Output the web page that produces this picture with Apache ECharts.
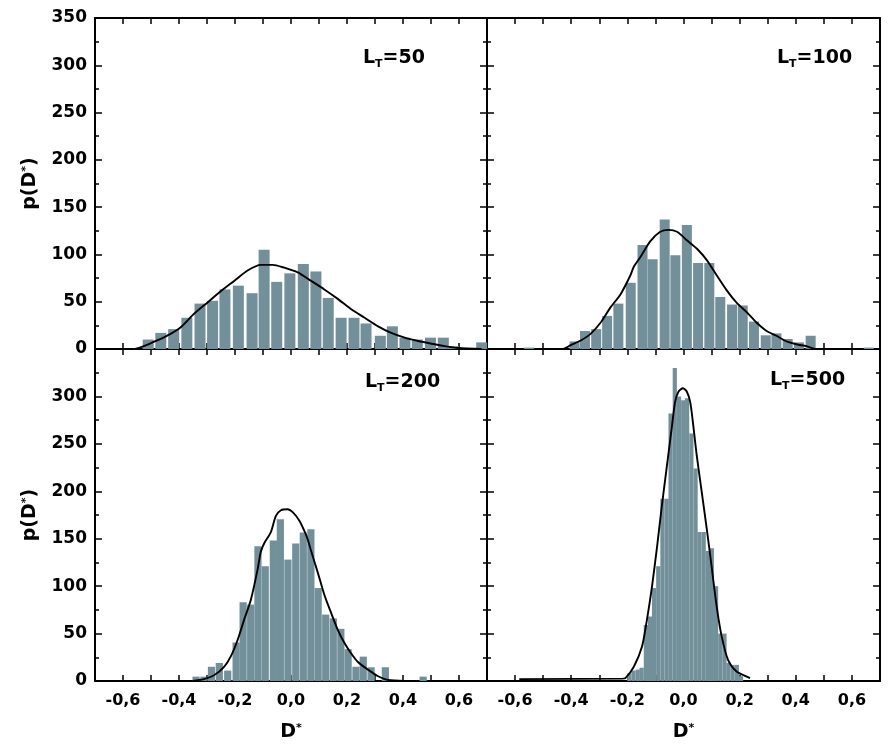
<!DOCTYPE html>
<html>
<head>
<meta charset="utf-8">
<script src="https://cdn.jsdelivr.net/npm/echarts@6/dist/echarts.min.js"></script>
<style>html,body{margin:0;padding:0;background:#fff}#c{width:888px;height:745px}</style>
</head>
<body>
<div id="c"></div>
<script>
// ---- tick labels ----
const xLabelValues = [-0.6, -0.4, -0.2, 0.0, 0.2, 0.4, 0.6];
const yLabelValues = [0, 50, 100, 150, 200, 250, 300, 350];
const panelLabels = ['50', '100', '200', '500'];

// ---- L_T = 50 (top-left) ----
const tlBinX = [-0.510,-0.465,-0.419,-0.372,-0.325,-0.280,-0.236,-0.188,-0.139,-0.096,-0.051,-0.004,0.044,0.089,0.133,0.179,0.225,0.268,0.319,0.362,0.407,0.451,0.498,0.544,0.580,0.681];
const tlBinY = [10,17,21,33,48,51,63,67,59,105,71,80,90,82,54,33,33,27,14,24,12,10,12,12,3,7];
const tlFitX = [-0.70,-0.563,-0.526,-0.478,-0.430,-0.394,-0.347,-0.299,-0.251,-0.203,-0.155,-0.108,-0.066,-0.024,0.024,0.072,0.119,0.167,0.215,0.263,0.311,0.358,0.406,0.454,0.502,0.549,0.597,0.681];
const tlFitY = [0,0,3,9,16,23,37,49,61,72,83,89,89,86,81,72,63,53,42,33,24,17,12,8.5,5.6,3,1,0];

// ---- L_T = 100 (top-right) ----
const trBinX = [-0.55,-0.388,-0.351,-0.311,-0.272,-0.232,-0.188,-0.146,-0.110,-0.067,-0.029,0.012,0.052,0.092,0.131,0.173,0.211,0.251,0.293,0.331,0.371,0.411,0.453,0.66];
const trBinY = [1.5,8,19,21,35,48,70,110,95,137,99,131,91,91,55,47,46,29,14.5,16.5,10.6,7,14,1.5];
const trFitX = [-0.45,-0.431,-0.402,-0.366,-0.331,-0.295,-0.260,-0.224,-0.189,-0.177,-0.154,-0.118,-0.083,-0.053,-0.023,0.012,0.048,0.083,0.118,0.154,0.189,0.225,0.260,0.296,0.331,0.367,0.402,0.438,0.473,0.50];
const trFitY = [0,0,4,9,16,28,44,58,78,87,97,114,124,126,124,115,106,94,78,62,49,39,28,19,14,8,5,3,0,0];

// ---- L_T = 200 (bottom-left) ----
const blBinX = [-0.339,-0.311,-0.284,-0.256,-0.226,-0.196,-0.171,-0.144,-0.118,-0.092,-0.063,-0.038,-0.011,0.017,0.044,0.071,0.097,0.124,0.151,0.178,0.204,0.232,0.258,0.286,0.337,0.472];
const blBinY = [4.6,4.6,15,19,11,40.6,83,80.5,142,121,148,170.5,128,145,156.5,160,98,70,66,55,33.6,15,25.7,14.5,14.5,4.6];
const blFitX = [-0.352,-0.311,-0.275,-0.239,-0.215,-0.191,-0.167,-0.143,-0.119,-0.108,-0.096,-0.072,-0.054,-0.036,-0.012,0.006,0.030,0.048,0.060,0.072,0.096,0.119,0.143,0.167,0.191,0.215,0.239,0.275,0.311,0.347,0.406];
const blFitY = [0,2,6,15,26,43,65,86,118,136,145,157,174,180,181,178,169,158,149,137,114,91,72,54,40,29,20,12,5,1,0];

// ---- L_T = 500 (bottom-right) ----
const brBinX = [-0.193,-0.178,-0.163,-0.149,-0.134,-0.119,-0.105,-0.090,-0.075,-0.060,-0.046,-0.031,-0.016,-0.001,0.013,0.028,0.043,0.057,0.072,0.087,0.101,0.116,0.131,0.146,0.160,0.175,0.190,0.205];
const brBinY = [8,11,12,14,59,68,98,121,192,192,282,330,300,296,298,261,224,157,157,137,140,100,50,50,19,17,17,5];
const brFitX = [-0.585,-0.217,-0.207,-0.177,-0.148,-0.130,-0.112,-0.094,-0.077,-0.059,-0.041,-0.030,-0.018,-0.002,0.012,0.024,0.035,0.047,0.065,0.083,0.100,0.118,0.136,0.159,0.189,0.225,0.237];
const brFitY = [2,2.5,3,15,36,65,100,142,185,227,269,294,305,308.6,305,294,269,238,199,160,121,79,47,22,10,4.6,3];

const zip = (a, b) => a.map((v, i) => [v, b[i]]);
const FONT = 'DejaVu Sans';
const BAR = '#72909a';

const grids = [
  {left: 95, top: 18, width: 392, height: 331},
  {left: 487, top: 18, width: 393, height: 331},
  {left: 95, top: 349, width: 392, height: 332},
  {left: 487, top: 349, width: 393, height: 332}
];

const fmtX = v => {
  const r = Math.round(v * 10) / 10;
  if (!xLabelValues.some(t => Math.abs(t - r) < 1e-9)) return '';
  return r.toFixed(1).replace('.', ',');
};
const fmtY = (hide350) => v => {
  if (!yLabelValues.includes(Math.round(v))) return '';
  if (hide350 && Math.round(v) === 350) return '';
  return String(Math.round(v));
};

const axisLine = {show: true, onZero: false, lineStyle: {color: '#000', width: 2}};
const xAxes = [], yAxes = [];
grids.forEach((g, i) => {
  const bottomRow = i >= 2;
  const leftCol = i % 2 === 0;
  const baseX = {
    type: 'value', gridIndex: i, min: -0.7, max: 0.7, interval: 0.1,
    splitLine: {show: false}, axisLine: axisLine,
    axisTick: {show: true, inside: true, length: 6, lineStyle: {color: '#000', width: 1.5}}
  };
  xAxes.push(Object.assign({}, baseX, {
    position: 'bottom',
    axisLabel: {show: bottomRow, formatter: fmtX, margin: 12, color: '#000', fontFamily: FONT, fontWeight: 'bold', fontSize: 16},
    name: bottomRow ? '{a|D}{s|*}' : '', nameLocation: 'middle', nameGap: 42,
    nameTextStyle: {rich: {a: {fontFamily: FONT, fontWeight: 'bold', fontSize: 19, color: '#000'}, s: {fontFamily: FONT, fontWeight: 'bold', fontSize: 11, color: '#000', verticalAlign: 'top'}}}
  }));
  xAxes.push(Object.assign({}, baseX, {position: 'top', axisLabel: {show: false}}));
  const baseY = {
    type: 'value', gridIndex: i, min: 0, max: 350, interval: 50,
    splitLine: {show: false}, axisLine: axisLine,
    axisTick: {show: true, inside: true, length: 7, lineStyle: {color: '#000', width: 1.5}},
    minorTick: {show: true, splitNumber: 2, length: 4, lineStyle: {color: '#000', width: 1.5}}
  };
  yAxes.push(Object.assign({}, baseY, {
    position: 'left',
    axisLabel: {show: leftCol, formatter: fmtY(bottomRow), margin: 8, color: '#000', fontFamily: FONT, fontWeight: 'bold', fontSize: 17},
    name: leftCol ? '{a|p(D}{s|*}{a|)}' : '', nameLocation: 'middle', nameRotate: 90, nameGap: 55,
    nameTextStyle: {rich: {a: {fontFamily: FONT, fontWeight: 'bold', fontSize: 19, color: '#000'}, s: {fontFamily: FONT, fontWeight: 'bold', fontSize: 11, color: '#000', verticalAlign: 'top'}}}
  }));
  yAxes.push(Object.assign({}, baseY, {position: 'right', axisLabel: {show: false}}));
});

const bins = [[tlBinX, tlBinY, 11], [trBinX, trBinY, 10], [blBinX, blBinY, 7.2], [brBinX, brBinY, 4.2]];
const fits = [[tlFitX, tlFitY], [trFitX, trFitY], [blFitX, blFitY], [brFitX, brFitY]];
const series = [];
bins.forEach((b, i) => {
  series.push({type: 'bar', xAxisIndex: i * 2, yAxisIndex: i * 2, data: zip(b[0], b[1]), barWidth: b[2],
    itemStyle: {color: BAR}, silent: true, animation: false});
});
fits.forEach((f, i) => {
  series.push({type: 'line', xAxisIndex: i * 2, yAxisIndex: i * 2, data: zip(f[0], f[1]), showSymbol: false, symbol: 'none',
    smooth: 0.25, lineStyle: {color: '#000', width: 1.9}, z: 5, silent: true, animation: false});
});

const labelPos = [[363, 49], [777, 49], [365, 373], [770, 371]];
const graphic = panelLabels.map((t, i) => ({
  type: 'text', left: labelPos[i][0], top: labelPos[i][1], z: 10,
  style: {
    text: '{a|L}{b|T}{a|=' + t + '}',
    rich: {
      a: {fontFamily: FONT, fontWeight: 'bold', fontSize: 19, lineHeight: 22, fill: '#000', verticalAlign: 'middle'},
      b: {fontFamily: FONT, fontWeight: 'bold', fontSize: 11, lineHeight: 12, fill: '#000', verticalAlign: 'bottom'}
    }
  }
}));

const chart = echarts.init(document.getElementById('c'), null, {renderer: 'canvas'});
chart.setOption({
  animation: false,
  backgroundColor: '#fff',
  grid: grids,
  xAxis: xAxes,
  yAxis: yAxes,
  series: series,
  graphic: graphic
});
</script>
</body>
</html>
